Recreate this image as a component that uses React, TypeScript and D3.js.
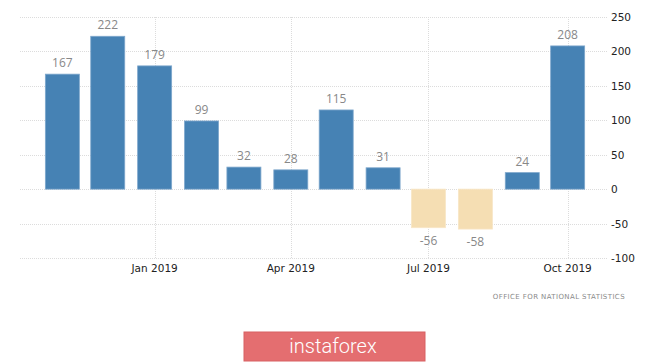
import React, { useEffect, useRef } from 'react';
import * as d3 from 'd3';

// monthly change, thousands
const months = ['2018-11', '2018-12', '2019-01', '2019-02', '2019-03', '2019-04', '2019-05', '2019-06', '2019-07', '2019-08', '2019-09', '2019-10'];
const values = [167, 222, 179, 99, 32, 28, 115, 31, -56, -58, 24, 208];
const yTicks = [250, 200, 150, 100, 50, 0, -50, -100];
const xTickDates = ['2019-01', '2019-04', '2019-07', '2019-10'];
const xTickLabels = ['Jan 2019', 'Apr 2019', 'Jul 2019', 'Oct 2019'];

const parseMonth = d3.timeParse('%Y-%m');

const App = () => {
  const ref = useRef<SVGSVGElement | null>(null);

  useEffect(() => {
    const svg = d3.select(ref.current);
    svg.selectAll('*').remove();

    const width = 665, height = 362;
    const plot = { left: 20, right: 607, top: 17, bottom: 258 };

    const x = d3.scaleTime()
      .domain([new Date(2018, 9, 4), new Date(2019, 9, 27)])
      .range([plot.left, plot.right]);
    const y = d3.scaleLinear().domain([-100, 250]).range([plot.bottom, plot.top]);

    svg.attr('width', width).attr('height', height);
    svg.append('rect').attr('width', width).attr('height', height).attr('fill', '#fff');

    // horizontal grid
    svg.append('g')
      .selectAll('line')
      .data(yTicks)
      .join('line')
      .attr('x1', plot.left)
      .attr('x2', plot.right)
      .attr('y1', (d) => Math.round(y(d)) + 0.5)
      .attr('y2', (d) => Math.round(y(d)) + 0.5)
      .attr('stroke', '#dcdcdc')
      .attr('stroke-dasharray', '1,1');

    // vertical grid
    svg.append('g')
      .selectAll('line')
      .data(xTickDates)
      .join('line')
      .attr('x1', (d) => Math.round(x(parseMonth(d)!)) + 0.5)
      .attr('x2', (d) => Math.round(x(parseMonth(d)!)) + 0.5)
      .attr('y1', plot.top)
      .attr('y2', plot.bottom)
      .attr('stroke', '#dcdcdc')
      .attr('stroke-dasharray', '1,1');

    const barW = 34;
    const data = months.map((m, i) => ({ date: parseMonth(m)!, value: values[i] }));

    svg.append('g')
      .selectAll('rect')
      .data(data)
      .join('rect')
      .attr('x', (d) => x(d.date) - barW / 2)
      .attr('y', (d) => y(Math.max(0, d.value)))
      .attr('width', barW)
      .attr('height', (d) => Math.abs(y(d.value) - y(0)))
      .attr('fill', (d) => (d.value >= 0 ? '#4682b4' : '#f5deb3'))
      .attr('stroke', (d) => (d.value >= 0 ? '#7ea7cc' : '#f8e6c6'))
      .attr('stroke-width', 0.8);

    // value labels
    svg.append('g')
      .selectAll('text')
      .data(data)
      .join('text')
      .attr('x', (d) => x(d.date))
      .attr('y', (d) => (d.value >= 0 ? y(d.value) - 7 : y(d.value) + 17))
      .attr('text-anchor', 'middle')
      .style('font-family', '"Open Sans", "DejaVu Sans", sans-serif')
      .style('font-size', '12px')
      .style('fill', '#888')
      .text((d) => d.value);

    // y axis labels
    svg.append('g')
      .selectAll('text')
      .data(yTicks)
      .join('text')
      .attr('x', 611)
      .attr('y', (d) => y(d) + 4)
      .style('font-family', '"DejaVu Sans", sans-serif')
      .style('font-size', '10.5px')
      .style('fill', '#222')
      .text((d) => d);

    // x axis labels
    svg.append('g')
      .selectAll('text')
      .data(xTickDates)
      .join('text')
      .attr('x', (d) => x(parseMonth(d)!))
      .attr('y', 272)
      .attr('text-anchor', 'middle')
      .style('font-family', '"DejaVu Sans", sans-serif')
      .style('font-size', '10.5px')
      .style('fill', '#222')
      .text((d, i) => xTickLabels[i]);

    // source
    svg.append('text')
      .attr('x', 625)
      .attr('y', 299)
      .attr('text-anchor', 'end')
      .style('font-family', '"DejaVu Sans", sans-serif')
      .style('font-size', '7px')
      .style('letter-spacing', '0.4px')
      .style('fill', '#8a8a8a')
      .text('OFFICE FOR NATIONAL STATISTICS');

    // watermark button
    svg.append('rect')
      .attr('x', 244)
      .attr('y', 332)
      .attr('width', 181)
      .attr('height', 29)
      .attr('fill', '#e46e70')
      .attr('stroke', '#d86063')
      .attr('stroke-width', 1);
    svg.append('text')
      .attr('x', 333)
      .attr('y', 353)
      .attr('text-anchor', 'middle')
      .style('font-family', 'Roboto, "Open Sans", sans-serif')
      .style('font-weight', 300)
      .style('font-size', '20px')
      .style('fill', '#fff')
      .text('instaforex');
  }, []);

  return (
    <div style={{ position: 'absolute', left: 0, top: 0 }}>
      <svg ref={ref}></svg>
    </div>
  );
};

export default App;
